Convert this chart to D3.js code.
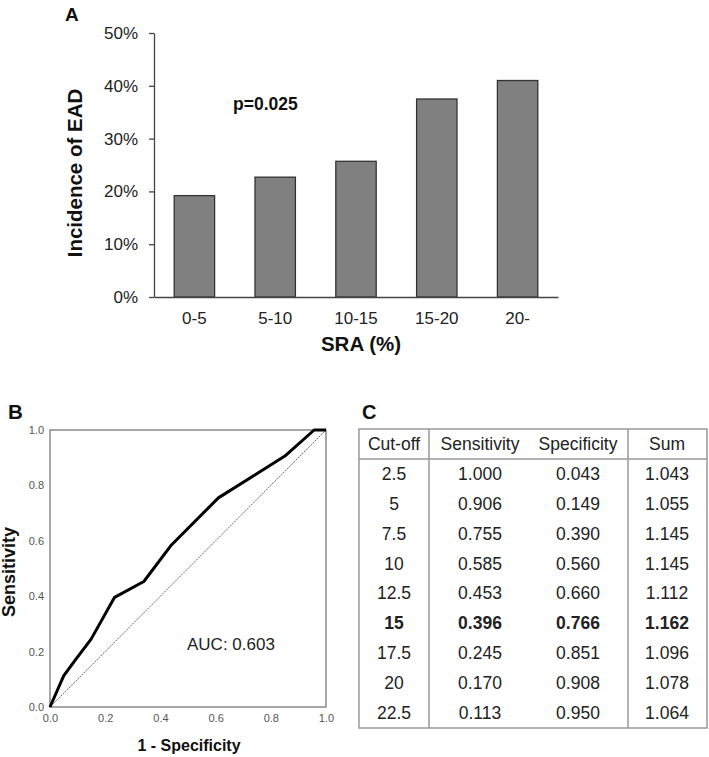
<!DOCTYPE html>
<html><head><meta charset="utf-8">
<script src="https://cdn.jsdelivr.net/npm/d3@7/dist/d3.min.js"></script>
<style>
body{margin:0;background:#fff;}
svg{display:block;font-family:"Liberation Sans",Arial,sans-serif;}
</style></head>
<body><svg id="c" width="709" height="757"></svg>
<script>
// Panel A data
const sraGroups = ["0-5","5-10","10-15","15-20","20-"];
const eadIncidence = [0.192,0.227,0.257,0.375,0.410];
const yTicksA = [0,0.1,0.2,0.3,0.4,0.5];
// Panel B / C data
const cutoffs = ["2.5","5","7.5","10","12.5","15","17.5","20","22.5"];
const sensitivity = [1.000,0.906,0.755,0.585,0.453,0.396,0.245,0.170,0.113];
const specificity = [0.043,0.149,0.390,0.560,0.660,0.766,0.851,0.908,0.950];
const sums = [1.043,1.055,1.145,1.145,1.112,1.162,1.096,1.078,1.064];
const boldRow = "15";
const rocTicks = [0,0.2,0.4,0.6,0.8,1.0];
const tableHeaders = ["Cut-off","Sensitivity","Specificity","Sum"];

const svg = d3.select("#c");
svg.append("rect").attr("width",709).attr("height",757).attr("fill","#fff");

// ---------- Panel A ----------
const xA = d3.scaleBand().domain(sraGroups).range([154,558]).paddingInner(0.5).paddingOuter(0.25);
const yA = d3.scaleLinear().domain([0,0.5]).range([297,33]);
const gA = svg.append("g");
gA.append("text").attr("x",65).attr("y",21).attr("font-weight","bold").attr("font-size",19).attr("fill","#111").text("A");

gA.selectAll("rect.bar").data(eadIncidence).join("rect")
  .attr("x",(d,i)=>xA(sraGroups[i])).attr("width",xA.bandwidth())
  .attr("y",d=>yA(d)).attr("height",d=>yA(0)-yA(d))
  .attr("fill","#808080").attr("stroke","#333").attr("stroke-width",1.3);

const axY = gA.append("g").attr("transform","translate(154,0)")
  .call(d3.axisLeft(yA).tickValues(yTicksA).tickFormat(d3.format(".0%")).tickSize(5).tickSizeOuter(0).tickPadding(11));
axY.select(".domain").attr("stroke","#444").attr("stroke-width",1.3);
axY.selectAll(".tick line").attr("stroke","#444").attr("stroke-width",1.3);
axY.selectAll("text").attr("font-size",17).attr("fill","#222").attr("font-family","Liberation Sans, Arial, sans-serif");

const axX = gA.append("g").attr("transform","translate(0,297)")
  .call(d3.axisBottom(xA).tickSize(0).tickSizeOuter(0).tickPadding(15));
axX.select(".domain").attr("stroke","#444").attr("stroke-width",1.3);
axX.selectAll("text").attr("font-size",17).attr("fill","#222").attr("font-family","Liberation Sans, Arial, sans-serif");

gA.append("text").attr("x",361).attr("y",351).attr("text-anchor","middle")
  .attr("font-weight","bold").attr("font-size",20.5).attr("fill","#111").text("SRA (%)");
gA.append("text").attr("transform","translate(82,173) rotate(-90)").attr("text-anchor","middle")
  .attr("font-weight","bold").attr("font-size",20.5).attr("fill","#111").text("Incidence of EAD");
gA.append("text").attr("x",233).attr("y",110).attr("font-weight","bold").attr("font-size",17.5).attr("fill","#111").text("p=0.025");

// ---------- Panel B ----------
const xB = d3.scaleLinear().domain([0,1]).range([50,326]);
const yB = d3.scaleLinear().domain([0,1]).range([707,430]);
const gB = svg.append("g");
gB.append("text").attr("x",8).attr("y",419).attr("font-weight","bold").attr("font-size",20.5).attr("fill","#111").text("B");

const axBx = gB.append("g").attr("transform","translate(0,707)")
  .call(d3.axisBottom(xB).tickValues(rocTicks).tickFormat(d3.format(".1f")).tickSize(0).tickPadding(7));
axBx.select(".domain").remove();
axBx.selectAll("text").attr("font-size",11).attr("fill","#555").attr("font-family","Liberation Sans, Arial, sans-serif");
const axBy = gB.append("g").attr("transform","translate(50,0)")
  .call(d3.axisLeft(yB).tickValues(rocTicks).tickFormat(d3.format(".1f")).tickSize(0).tickPadding(6));
axBy.select(".domain").remove();
axBy.selectAll("text").attr("font-size",11).attr("fill","#555").attr("font-family","Liberation Sans, Arial, sans-serif");

gB.append("rect").attr("x",xB(0)).attr("y",yB(1)).attr("width",xB(1)-xB(0)).attr("height",yB(0)-yB(1))
  .attr("fill","none").attr("stroke","#777").attr("stroke-width",1.3);

// diagonal reference
gB.append("path").attr("d",d3.line().x(d=>xB(d)).y(d=>yB(d))([0,1]))
  .attr("stroke","#555").attr("stroke-width",0.9).attr("stroke-dasharray","2,1").attr("fill","none");

// ROC curve from table (x = 1 - specificity, y = sensitivity)
const rocPts = [[0,0]].concat(
  sensitivity.map((s,i)=>[1-specificity[i], s]).sort((a,b)=>a[0]-b[0])
).concat([[1,1]]);
gB.append("path").datum(rocPts)
  .attr("d",d3.line().x(d=>xB(d[0])).y(d=>yB(d[1])))
  .attr("stroke","#000").attr("stroke-width",3).attr("fill","none").attr("stroke-linejoin","round");

gB.append("text").attr("x",187).attr("y",650).attr("font-size",17).attr("fill","#222").text("AUC: 0.603");
gB.append("text").attr("x",189).attr("y",751).attr("text-anchor","middle")
  .attr("font-weight","bold").attr("font-size",16).attr("fill","#111").text("1 - Specificity");
gB.append("text").attr("transform","translate(15,572) rotate(-90)").attr("text-anchor","middle")
  .attr("font-weight","bold").attr("font-size",18).attr("fill","#111").text("Sensitivity");

// ---------- Panel C ----------
const gC = svg.append("g");
gC.append("text").attr("x",362).attr("y",419).attr("font-weight","bold").attr("font-size",20).attr("fill","#111").text("C");

const rowsAll = ["header"].concat(cutoffs);
const yC = d3.scaleBand().domain(rowsAll).range([429,728]);
const colCenters = [394,480,578,667];
const colLines = [359,429,628,707];

gC.append("rect").attr("x",359).attr("y",429).attr("width",707-359).attr("height",728-429)
  .attr("fill","none").attr("stroke","#999").attr("stroke-width",1.5);
gC.append("line").attr("x1",359).attr("x2",707).attr("y1",yC("header")+yC.bandwidth()).attr("y2",yC("header")+yC.bandwidth())
  .attr("stroke","#999").attr("stroke-width",1.5);
[colLines[1],colLines[2]].forEach(x=>{
  gC.append("line").attr("x1",x).attr("x2",x).attr("y1",429).attr("y2",728).attr("stroke","#999").attr("stroke-width",1.5);
});

gC.selectAll("text.h").data(tableHeaders).join("text")
  .attr("x",(d,i)=>colCenters[i]).attr("y",yC("header")+yC.bandwidth()/2+6)
  .attr("text-anchor","middle").attr("font-size",17.5).attr("fill","#222").text(d=>d);

const fmt3 = d3.format(".3f");
cutoffs.forEach((c,i)=>{
  const vals = [c, fmt3(sensitivity[i]), fmt3(specificity[i]), fmt3(sums[i])];
  gC.selectAll(null).data(vals).join("text")
    .attr("x",(d,j)=>colCenters[j]).attr("y",yC(c)+yC.bandwidth()/2+6)
    .attr("text-anchor","middle").attr("font-size",17.5)
    .attr("font-weight",c===boldRow?"bold":"normal")
    .attr("fill","#222").text(d=>d);
});
</script></body></html>
